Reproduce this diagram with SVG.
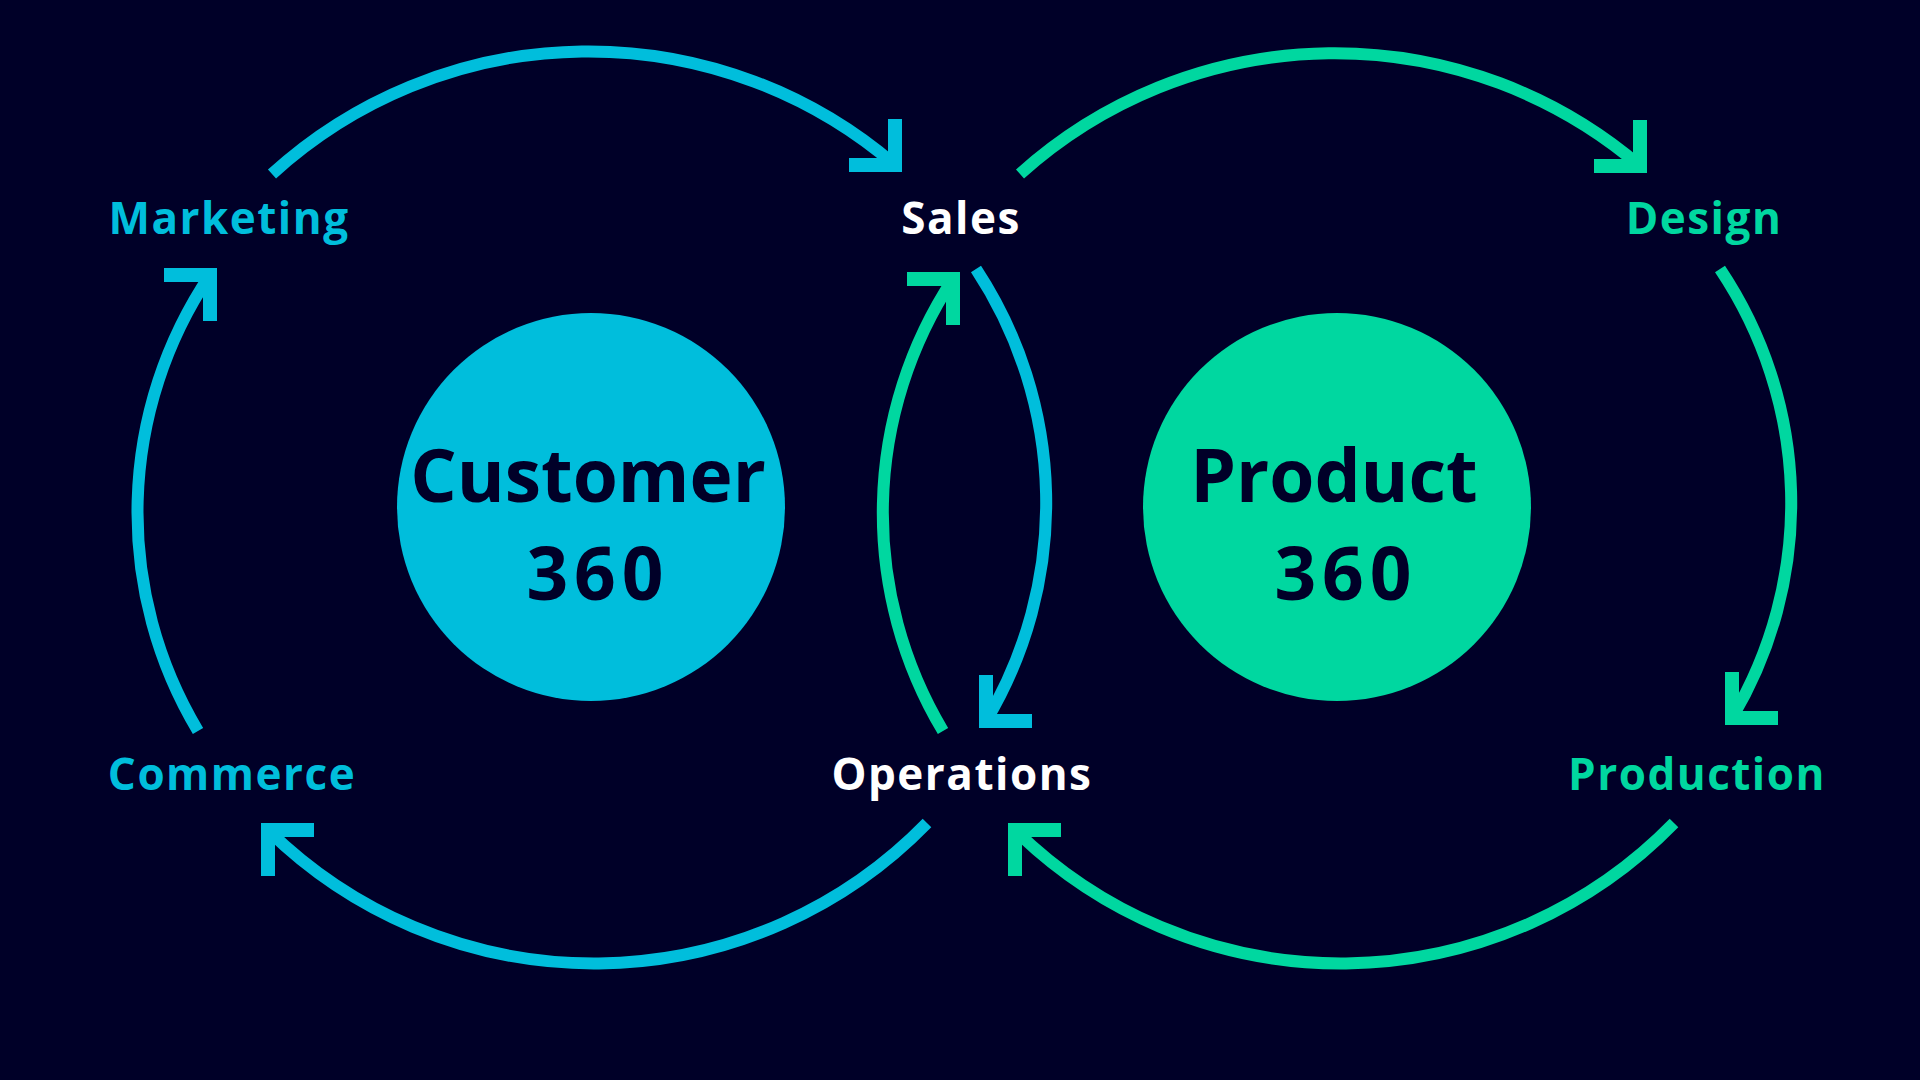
<svg xmlns="http://www.w3.org/2000/svg" width="1920" height="1080" viewBox="0 0 1920 1080">
  <style>
    .bg { fill: #000028; }
    .arc { fill: none; stroke-width: 12; }
    .head { fill: none; stroke-width: 14; stroke-linejoin: miter; stroke-linecap: butt; stroke-miterlimit: 10; }
    .blue { stroke: #00BEDC; }
    .green { stroke: #00D7A0; }
    .hub-c { fill: #00BEDC; }
    .hub-p { fill: #00D7A0; }
    .hub-text { font-family: "Open Sans", "Noto Sans", "Liberation Sans", sans-serif; font-weight: 700; font-size: 73px; fill: #000028; text-anchor: middle; }
    .hub-num { letter-spacing: 6px; }
    .label { font-family: "Open Sans", "Noto Sans", "Liberation Sans", sans-serif; font-weight: 700; font-size: 44px; letter-spacing: 1.5px; text-anchor: middle; }
    .t-blue { fill: #00BEDC; }
    .t-green { fill: #00D7A0; }
    .t-white { fill: #FFFFFF; }
  </style>
  <rect class="bg" x="0" y="0" width="1920" height="1080"/>

  <g id="connectors">
    <g id="marketing-to-sales">
      <path class="arc blue" d="M 272 174 A 470 470 0 0 1 895 165"/>
      <polyline class="head blue" points="895,119 895,165 849,165"/>
    </g>
    <g id="sales-to-operations">
      <path class="arc blue" d="M 976 269 A 425 425 0 0 1 986 721"/>
      <polyline class="head blue" points="986,675 986,721 1032,721"/>
    </g>
    <g id="operations-to-commerce">
      <path class="arc blue" d="M 927 823 A 465 465 0 0 1 268 830"/>
      <polyline class="head blue" points="268,876 268,830 314,830"/>
    </g>
    <g id="commerce-to-marketing">
      <path class="arc blue" d="M 198 731 A 425 425 0 0 1 210 275"/>
      <polyline class="head blue" points="164,275 210,275 210,321"/>
    </g>
    <g id="sales-to-design">
      <path class="arc green" d="M 1020 174 A 470 470 0 0 1 1640 166"/>
      <polyline class="head green" points="1640,120 1640,166 1594,166"/>
    </g>
    <g id="design-to-production">
      <path class="arc green" d="M 1720 269 A 420 420 0 0 1 1732 718"/>
      <polyline class="head green" points="1732,672 1732,718 1778,718"/>
    </g>
    <g id="production-to-operations">
      <path class="arc green" d="M 1674 823 A 465 465 0 0 1 1015 830"/>
      <polyline class="head green" points="1015,876 1015,830 1061,830"/>
    </g>
    <g id="operations-to-sales">
      <path class="arc green" d="M 943 731 A 425 425 0 0 1 953 279"/>
      <polyline class="head green" points="907,279 953,279 953,325"/>
    </g>
  </g>

  <g id="node-customer360">
    <circle class="hub-c" cx="591" cy="507" r="194"/>
    <text class="hub-text" x="588" y="502">Customer</text>
    <text class="hub-text hub-num" x="598" y="600">360</text>
  </g>
  <g id="node-product360">
    <circle class="hub-p" cx="1337" cy="507" r="194"/>
    <text class="hub-text" x="1334" y="502">Product</text>
    <text class="hub-text hub-num" x="1346" y="600">360</text>
  </g>

  <g id="node-marketing"><text class="label t-blue" x="229" y="234">Marketing</text></g>
  <g id="node-sales"><text class="label t-white" x="961" y="234">Sales</text></g>
  <g id="node-design"><text class="label t-green" x="1704" y="234">Design</text></g>
  <g id="node-commerce"><text class="label t-blue" x="232" y="790">Commerce</text></g>
  <g id="node-operations"><text class="label t-white" x="962" y="790">Operations</text></g>
  <g id="node-production"><text class="label t-green" x="1697" y="790">Production</text></g>
</svg>
